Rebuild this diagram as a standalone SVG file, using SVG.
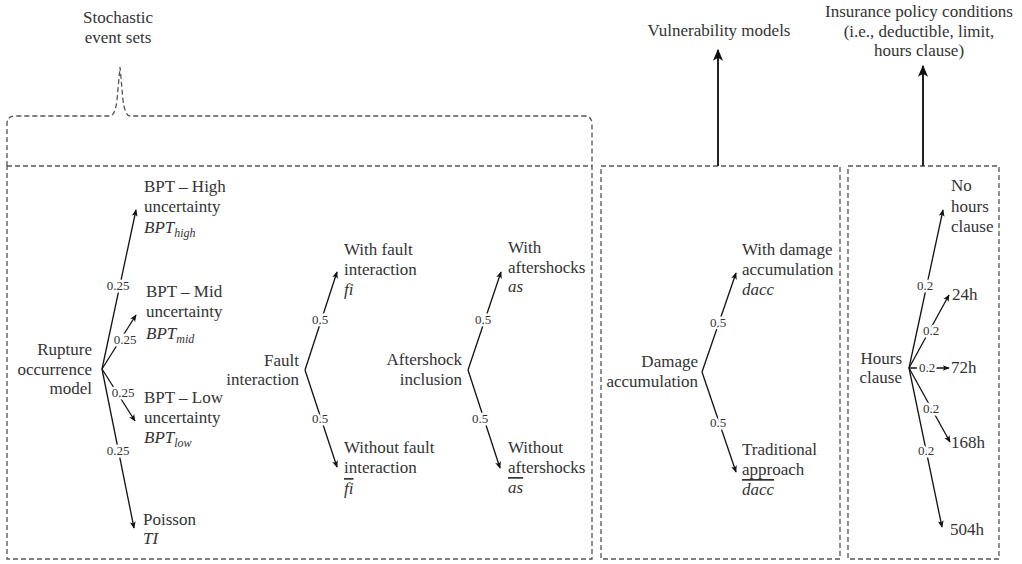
<svg xmlns="http://www.w3.org/2000/svg" width="1022" height="564" viewBox="0 0 1022 564">
<defs>
<marker id="ah" viewBox="0 0 10 10" refX="9" refY="5" markerWidth="7" markerHeight="7" orient="auto" markerUnits="userSpaceOnUse">
<path d="M0,0.8 L10,5 L0,9.2 L2.5,5 Z" fill="#111" stroke="none"/>
</marker>
<marker id="ahb" viewBox="0 0 10 10" refX="9" refY="5" markerWidth="12" markerHeight="12" orient="auto" markerUnits="userSpaceOnUse">
<path d="M0,0.8 L10,5 L0,9.2 L2.5,5 Z" fill="#111" stroke="none"/>
</marker>
</defs>
<rect width="1022" height="564" fill="#fff"/>

<g id="frames" fill="none" stroke="#555" stroke-width="1.3" stroke-dasharray="5,3">
<rect x="7" y="166" width="585" height="393"/>
<rect x="601" y="166" width="239" height="393"/>
<rect x="848" y="166" width="151" height="393"/>
<path d="M7,166 L7,124 Q7,116 15,116 L110,116 Q115,116 117,100 L120,67 L123,100 Q125,116 130,116 L584,116 Q592,116 592,124 L592,166"/>
</g>

<g id="connectors">
<g stroke="#111" stroke-width="1.3" fill="none" marker-end="url(#ah)">
<line x1="102" y1="369" x2="136" y2="210"/>
<line x1="102" y1="369" x2="136" y2="315"/>
<line x1="102" y1="369" x2="135" y2="421"/>
<line x1="102" y1="369" x2="134" y2="528"/>
<line x1="305" y1="370" x2="337" y2="272"/>
<line x1="305" y1="370" x2="337" y2="467"/>
<line x1="468" y1="370" x2="501" y2="272"/>
<line x1="468" y1="370" x2="500" y2="468"/>
<line x1="702" y1="372" x2="736" y2="273"/>
<line x1="702" y1="372" x2="736" y2="472"/>
<line x1="909" y1="368" x2="943" y2="210"/>
<line x1="909" y1="368" x2="949" y2="295"/>
<line x1="909" y1="368" x2="949" y2="368"/>
<line x1="909" y1="368" x2="950" y2="442"/>
<line x1="909" y1="368" x2="942" y2="527"/>
</g>
<g stroke="#222" stroke-width="2" fill="none" marker-end="url(#ahb)">
<line x1="718" y1="166" x2="718" y2="50"/>
<line x1="923" y1="166" x2="923" y2="66"/>
</g>
<g font-family="Liberation Serif" font-size="13" fill="#333" text-anchor="middle" stroke="#fff" stroke-width="5" paint-order="stroke" stroke-linejoin="round">
<text x="118" y="290">0.25</text>
<text x="125" y="344">0.25</text>
<text x="123" y="397">0.25</text>
<text x="118" y="455">0.25</text>
<text x="320" y="324">0.5</text>
<text x="320" y="423">0.5</text>
<text x="483" y="324">0.5</text>
<text x="480" y="423">0.5</text>
<text x="718" y="327">0.5</text>
<text x="718" y="427">0.5</text>
<text x="925" y="290">0.2</text>
<text x="931" y="335">0.2</text>
<text x="927" y="372">0.2</text>
<text x="931" y="413">0.2</text>
<text x="926" y="455">0.2</text>
</g>
</g>

<g font-family="Liberation Serif" font-size="17" fill="#333">
<g id="stochastic" text-anchor="middle">
<text x="118" y="23">Stochastic</text>
<text x="118" y="43">event sets</text>
</g>
<g id="vulnerability" text-anchor="middle">
<text x="719" y="36">Vulnerability models</text>
</g>
<g id="insurance" text-anchor="middle">
<text x="919" y="17">Insurance policy conditions</text>
<text x="919" y="37">(i.e., deductible, limit,</text>
<text x="919" y="56">hours clause)</text>
</g>

<g id="rupture" text-anchor="end">
<text x="92" y="355">Rupture</text>
<text x="92" y="375">occurrence</text>
<text x="92" y="394">model</text>
</g>
<g id="bpt-high">
<text x="144" y="192">BPT – High</text>
<text x="144" y="212">uncertainty</text>
<text x="144" y="233" font-style="italic">BPT<tspan font-size="12" dy="4">high</tspan></text>
</g>
<g id="bpt-mid">
<text x="146" y="297">BPT – Mid</text>
<text x="146" y="317">uncertainty</text>
<text x="146" y="339" font-style="italic">BPT<tspan font-size="12" dy="4">mid</tspan></text>
</g>
<g id="bpt-low">
<text x="144" y="403">BPT – Low</text>
<text x="144" y="423">uncertainty</text>
<text x="144" y="443" font-style="italic">BPT<tspan font-size="12" dy="4">low</tspan></text>
</g>
<g id="poisson">
<text x="143" y="525">Poisson</text>
<text x="143" y="544" font-style="italic">TI</text>
</g>

<g id="fault" text-anchor="end">
<text x="299" y="366">Fault</text>
<text x="299" y="385">interaction</text>
</g>
<g id="with-fi">
<text x="344" y="255">With fault</text>
<text x="344" y="275">interaction</text>
<text x="344" y="295" font-style="italic">fi</text>
</g>
<g id="without-fi">
<text x="344" y="453">Without fault</text>
<text x="344" y="473">interaction</text>
<text x="344" y="494" font-style="italic" text-decoration="overline">fi</text>
</g>

<g id="aftershock" text-anchor="end">
<text x="462" y="365">Aftershock</text>
<text x="462" y="385">inclusion</text>
</g>
<g id="with-as">
<text x="508" y="253">With</text>
<text x="508" y="273">aftershocks</text>
<text x="508" y="292" font-style="italic">as</text>
</g>
<g id="without-as">
<text x="508" y="453">Without</text>
<text x="508" y="473">aftershocks</text>
<text x="508" y="493" font-style="italic" text-decoration="overline">as</text>
</g>

<g id="damage" text-anchor="end">
<text x="698" y="367">Damage</text>
<text x="698" y="387">accumulation</text>
</g>
<g id="with-dacc">
<text x="742" y="255">With damage</text>
<text x="742" y="275">accumulation</text>
<text x="742" y="295" font-style="italic">dacc</text>
</g>
<g id="traditional">
<text x="742" y="455">Traditional</text>
<text x="742" y="475">approach</text>
<text x="742" y="495" font-style="italic" text-decoration="overline">dacc</text>
</g>

<g id="hours" text-anchor="end">
<text x="902" y="364">Hours</text>
<text x="902" y="383">clause</text>
</g>
<g id="no-hours">
<text x="951" y="191">No</text>
<text x="951" y="212">hours</text>
<text x="951" y="232">clause</text>
</g>
<g id="h24"><text x="952" y="300">24h</text></g>
<g id="h72"><text x="951" y="373">72h</text></g>
<g id="h168"><text x="951" y="448">168h</text></g>
<g id="h504"><text x="950" y="535">504h</text></g>
</g>
</svg>
